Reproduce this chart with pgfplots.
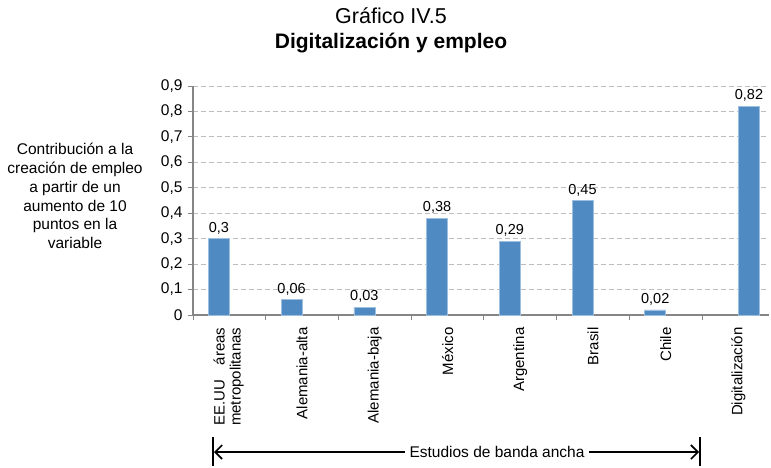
\documentclass[border=0pt]{standalone}
\usepackage{pgfplots}
\pgfplotsset{compat=1.18}
\usepackage{fontspec}
\setmainfont{Liberation Sans}
\usetikzlibrary{arrows.meta}
\definecolor{barblue}{RGB}{79,138,194}
\definecolor{axisgray}{RGB}{134,134,134}
\definecolor{gridgray}{RGB}{190,190,190}

\begin{document}
\begin{tikzpicture}
\useasboundingbox (0pt,0pt) rectangle (771pt,467pt);
\begin{axis}[
  at={(193pt,152pt)}, anchor=south west,
  scale only axis, width=576pt, height=229pt,
  xmin=0, xmax=7.92, ymin=0, ymax=0.9,
  axis x line*=bottom, axis y line*=left,
  axis line style={axisgray, line width=1.2pt},
  ytick={0,0.1,0.2,0.3,0.4,0.5,0.6,0.7,0.8,0.9},
  yticklabels={0,{0,1},{0,2},{0,3},{0,4},{0,5},{0,6},{0,7},{0,8},{0,9}},
  yticklabel style={font=\fontsize{15.5}{18}\selectfont, xshift=-2pt},
  ymajorgrids, grid style={gridgray, dash pattern=on 5pt off 3pt, line width=0.9pt},
  tick align=outside, major tick length=5pt,
  ytick style={axisgray, line width=1pt},
  xtick={0.5,1.5,2.5,3.5,4.5,5.5,6.5,7.5},
  xticklabels={{\begin{tabular}{@{}l@{}}\makebox[6.56em][s]{EE.UU áreas}\\metropolitanas\end{tabular}},
    Alemania-alta, Alemania-baja, México, Argentina, Brasil, Chile, Digitalización},
  xtick style={draw=none},
  extra x ticks={0,1,2,3,4,5,6,7},
  extra x tick labels={},
  extra x tick style={xtick style={draw=axisgray, line width=1pt}},
  xticklabel shift=4pt,
  xticklabel style={rotate=90, anchor=east, font=\fontsize{15}{16}\selectfont},
  ybar, bar width=21pt,
  point meta=explicit symbolic,
  nodes near coords,
  nodes near coords style={font=\fontsize{14.5}{16}\selectfont, yshift=1pt},
  every axis plot/.append style={fill=barblue, draw=barblue!55!white, line width=0.6pt},
  clip=false,
]
\addplot[bar shift=-10.5pt] coordinates {(0.5,0.3) [{0,3}] (1.5,0.06) [{0,06}] (2.5,0.03) [{0,03}] (3.5,0.38) [{0,38}] (4.5,0.29) [{0,29}] (5.5,0.45) [{0,45}] (6.5,0.02) [{0,02}]};
\addplot[bar shift=10.5pt] coordinates {(7.5,0.82) [{0,82}]};
\end{axis}
% titles
\node[anchor=base, font=\fontsize{21.5}{24}\selectfont] at (391pt,443pt) {Gráfico IV.5};
\node[anchor=base, font=\fontsize{21}{24}\selectfont\bfseries] at (391pt,418pt) {Digitalización y empleo};
% y label
\node[align=center, font=\fontsize{15.5}{18.8}\selectfont] at (75pt,271pt)
  {Contribución a la\\creación de empleo\\a partir de un\\aumento de 10\\puntos en la\\variable};
% bracket
\draw[line width=1.6pt] (213pt,1pt) -- (213pt,30pt);
\draw[line width=1.6pt] (700pt,1pt) -- (700pt,30pt);
\draw[line width=1.6pt, {Straight Barb[length=7pt,width=14pt]}-{Straight Barb[length=7pt,width=14pt]}] (214pt,15pt) -- (699pt,15pt);
\node[fill=white, inner xsep=5pt, font=\fontsize{15.5}{17}\selectfont] at (497pt,15pt) {Estudios de banda ancha};
\end{tikzpicture}
\end{document}
